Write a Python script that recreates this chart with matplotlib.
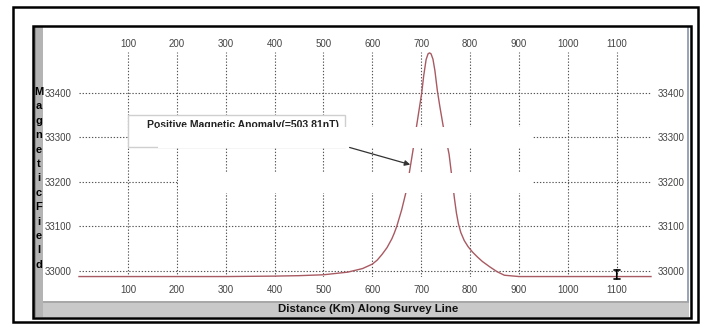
import matplotlib
matplotlib.use("Agg")
import matplotlib.pyplot as plt
from matplotlib.patches import Rectangle

# values
distance_km = [0, 100, 200, 300, 400, 450, 500, 550, 580, 600, 610, 620, 630, 640,
               645, 650, 660, 670, 683, 690, 701, 705, 710, 714, 717, 720, 724,
               728, 733, 738, 745, 751, 757, 763, 768, 772, 776, 781, 788, 796,
               805, 815, 825, 840, 855, 870, 900, 1000, 1100, 1170]
field_nt = [32987, 32987, 32987, 32987, 32988, 32989, 32991, 32997, 33005, 33015,
            33024, 33037, 33052, 33072, 33085, 33100, 33137, 33182, 33270, 33322,
            33400, 33438, 33475, 33488, 33490, 33488, 33476, 33450, 33405, 33370,
            33325, 33295, 33262, 33208, 33162, 33130, 33106, 33086, 33068, 33054,
            33042, 33031, 33021, 33009, 32998, 32990, 32987, 32987, 32987, 32987]

x_ticks = [100, 200, 300, 400, 500, 600, 700, 800, 900, 1000, 1100]
y_ticks = [33000, 33100, 33200, 33300, 33400]
ylabel_letters = list("MagneticField")
anomaly_text = "Positive Magnetic Anomaly(=503.81nT)"
xlabel_text = "Distance (Km) Along Survey Line"

W, H = 705, 326
fig = plt.figure(figsize=(W / 100, H / 100), dpi=100)
fig.patch.set_facecolor("white")


def px_rect(x0, y0, x1, y1, **kw):
    # rectangle given in image pixels (origin top-left)
    r = Rectangle((x0 / W, 1 - y1 / H), (x1 - x0) / W, (y1 - y0) / H,
                  transform=fig.transFigure, **kw)
    fig.add_artist(r)
    return r


# window decoration
px_rect(13, 7, 698, 322, fill=False, edgecolor="black", lw=1.8)
px_rect(43, 301, 689, 317, facecolor="#c9c9c9", edgecolor="none")
px_rect(43, 301, 689, 303, facecolor="#a8a8a8", edgecolor="none")
px_rect(33, 26, 43, 317, facecolor="#b4b4b4", edgecolor="none")
px_rect(33, 26, 36, 317, facecolor="#8c8c8c", edgecolor="none")
px_rect(687, 26, 689, 302, facecolor="#9aa6b8", edgecolor="none")
px_rect(33, 26, 691, 318, fill=False, edgecolor="black", lw=1.8)

ax = fig.add_axes([79 / W, 1 - 277 / H, 572 / W, 225 / H])
ax.set_xlim(0, 1170)
ax.set_ylim(32986, 33492)
for s in ax.spines.values():
    s.set_visible(False)
ax.set_facecolor("none")

ax.set_xticks(x_ticks)
ax.set_yticks(y_ticks)
ax.tick_params(axis="both", length=0, labelsize=7, labelcolor="#444444",
               labelright=True)
ax.tick_params(axis="x", pad=6)
ax.tick_params(axis="y", pad=5)
ax.grid(True, color="#555555", linestyle=(0, (1.2, 1.6)), lw=0.8)

top = ax.secondary_xaxis("top")
top.set_xticks(x_ticks)
top.tick_params(length=0, labelsize=7, labelcolor="#444444", pad=2)
top.spines["top"].set_visible(False)

ax.plot(distance_km, field_nt, color="#a85a62", lw=1.0, clip_on=False, zorder=3)

# annotation box, partly hidden by white patches as in the screenshot
ax.add_patch(Rectangle((100, 33279), 444, 71, facecolor="white",
                       edgecolor="#cfcfcf", lw=1.0, zorder=4))
ax.text(140, 33328, anomaly_text, fontsize=7.5, fontweight="bold",
        family="Liberation Sans", color="#222222", va="center", zorder=5)
ax.add_patch(Rectangle((162, 33277), 767, 47, facecolor="white",
                       edgecolor="none", zorder=6))
ax.add_patch(Rectangle((202, 33174), 727, 47, facecolor="white",
                       edgecolor="none", zorder=6))
ax.annotate("", xy=(683, 33237), xytext=(548, 33279),
            arrowprops=dict(arrowstyle="-|>", color="#333333", lw=0.9,
                            mutation_scale=8), zorder=7)

# cursor mark near 1100
ax.annotate("", xy=(1100, 32975), xytext=(1100, 33008),
            arrowprops=dict(arrowstyle="|-|", color="black", lw=1.2,
                            mutation_scale=2), annotation_clip=False, zorder=7)

for t in ax.get_xticklabels() + ax.get_yticklabels() + top.get_xticklabels():
    t.set_family("Liberation Sans")

# vertical y label letters in the left strip
top_px, step = 92, 14.4
for i, ch in enumerate(ylabel_letters):
    fig.text(39 / W, 1 - (top_px + i * step) / H, ch, fontsize=8,
             fontweight="bold", family="Liberation Sans", ha="center",
             va="center", color="black")

fig.text(368 / W, 1 - 309 / H, xlabel_text, fontsize=8.2, fontweight="bold",
         family="Liberation Sans", ha="center", va="center", color="#111111")

fig.savefig("out.png", dpi=100)
